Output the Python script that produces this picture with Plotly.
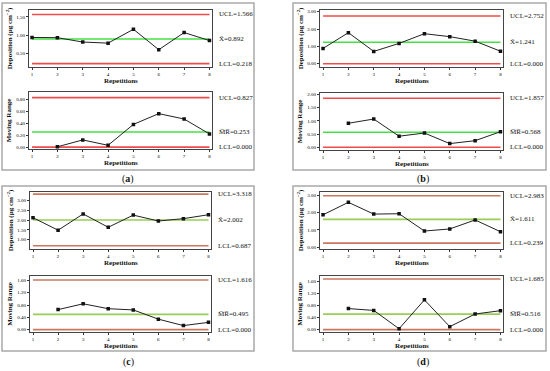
import plotly.graph_objects as go

reps = [1, 2, 3, 4, 5, 6, 7, 8]
rep_ticks = ["1", "2", "3", "4", "5", "6", "7", "8"]

# Individual (deposition) values and moving ranges, per panel
a_dep = [0.935, 0.93, 0.81, 0.78, 1.16, 0.60, 1.07, 0.85]
a_mr = [None, 0.005, 0.12, 0.03, 0.38, 0.56, 0.47, 0.22]
b_dep = [0.88, 1.79, 0.71, 1.17, 1.73, 1.56, 1.30, 0.72]
b_mr = [None, 0.91, 1.07, 0.42, 0.54, 0.14, 0.25, 0.59]
c_dep = [2.12, 1.48, 2.31, 1.63, 2.25, 1.95, 2.07, 2.27]
c_mr = [None, 0.65, 0.84, 0.68, 0.64, 0.34, 0.13, 0.235]
d_dep = [1.88, 2.60, 1.92, 1.94, 0.94, 1.06, 1.58, 0.90]
d_mr = [None, 0.70, 0.64, 0.03, 0.99, 0.10, 0.52, 0.63]

# Control limits (UCL, centre, LCL)
a_dep_lim = [1.566, 0.892, 0.218]
a_mr_lim = [0.827, 0.253, 0.000]
b_dep_lim = [2.752, 1.241, 0.000]
b_mr_lim = [1.857, 0.568, 0.000]
c_dep_lim = [3.318, 2.002, 0.687]
c_mr_lim = [1.616, 0.495, 0.000]
d_dep_lim = [2.983, 1.611, 0.239]
d_mr_lim = [1.685, 0.516, 0.000]

# Tick values
a_dep_ticks = [0.5, 1.0, 1.5]
a_mr_ticks = [0.0, 0.2, 0.4, 0.6, 0.8]
b_dep_ticks = [0.0, 1.0, 2.0, 3.0]
b_mr_ticks = [0.0, 0.5, 1.0, 1.5, 2.0]
c_dep_ticks = [1.0, 1.5, 2.0, 2.5, 3.0]
c_mr_ticks = [0.0, 0.4, 0.8, 1.2, 1.6]
d_dep_ticks = [0.0, 1.0, 2.0, 3.0]
d_mr_ticks = [0.0, 0.4, 0.8, 1.2, 1.6]

panel_labels = ["a", "b", "c", "d"]

W, H = 550, 371
FONT = "Liberation Serif"


def px(x):
    return x / W


def py(y):
    return 1 - y / H


charts = [
    # data, limits, ticks, yrange, x-pixels, y-pixels, kind, colours
    (a_dep, a_dep_lim, a_dep_ticks, [0.135, 1.69], (29, 212), (9, 66), "dep", "ab"),
    (a_mr, a_mr_lim, a_mr_ticks, [-0.035, 0.93], (29, 212), (91, 149), "mr", "ab"),
    (b_dep, b_dep_lim, b_dep_ticks, [-0.17, 3.10], (320, 503), (9, 66), "dep", "ab"),
    (b_mr, b_mr_lim, b_mr_ticks, [-0.11, 2.075], (320, 503), (92, 150), "mr", "ab"),
    (c_dep, c_dep_lim, c_dep_ticks, [0.54, 3.43], (30, 211), (192, 249), "dep", "cd"),
    (c_mr, c_mr_lim, c_mr_ticks, [-0.085, 1.76], (30, 211), (276, 333), "mr", "cd"),
    (d_dep, d_dep_lim, d_dep_ticks, [-0.08, 3.20], (320, 503), (192, 249), "dep", "cd"),
    (d_mr, d_mr_lim, d_mr_ticks, [-0.085, 1.80], (320, 503), (276, 333), "mr", "cd"),
]

fig = go.Figure()
layout = dict(
    width=W, height=H,
    margin=dict(l=0, r=0, t=0, b=0),
    paper_bgcolor="white", plot_bgcolor="white",
    showlegend=False,
    font=dict(family=FONT, color="black"),
)
annotations = []
shapes = []

for i, (vals, lim, ticks, yr, xp, yp, kind, col) in enumerate(charts):
    n = i + 1
    xa = "x" if n == 1 else f"x{n}"
    ya = "y" if n == 1 else f"y{n}"
    red = "#f04a4a" if col == "ab" else "#c9785e"
    green = "#45e045" if col == "ab" else "#9acd55"
    ucl, cl, lcl = lim
    for val, c in [(ucl, red), (lcl, red), (cl, green)]:
        fig.add_trace(go.Scatter(x=[reps[0], reps[-1]], y=[val, val], mode="lines",
                                 line=dict(color=c, width=1.6), xaxis=xa, yaxis=ya,
                                 hoverinfo="skip"))
    fig.add_trace(go.Scatter(x=reps, y=vals, mode="lines+markers",
                             line=dict(color="#222222", width=1),
                             marker=dict(symbol="square", size=3.5, color="#111111"),
                             xaxis=xa, yaxis=ya, connectgaps=False))
    layout["xaxis" if n == 1 else f"xaxis{n}"] = dict(
        domain=[px(xp[0]), px(xp[1])], anchor=ya, range=[0.88, 8.1],
        tickvals=reps, ticktext=rep_ticks, ticks="outside", ticklen=2, tickwidth=0.8,
        tickcolor="#333", tickfont=dict(size=5, family=FONT), showgrid=False, zeroline=False,
        showline=True, mirror=True, linecolor="#444", linewidth=1,
    )
    layout["yaxis" if n == 1 else f"yaxis{n}"] = dict(
        domain=[py(yp[1]), py(yp[0])], anchor=xa, range=yr,
        tickvals=ticks, tickformat=".2f", ticks="outside", ticklen=2, tickwidth=0.8,
        tickcolor="#333", tickfont=dict(size=5, family=FONT), showgrid=False, zeroline=False,
        showline=True, mirror=True, linecolor="#444", linewidth=1,
    )
    # right-side labels
    ax_x = px(xp[1] + 5)
    if kind == "dep":
        ctext = f"X\u0304={cl:.3f}"
    else:
        ctext = f"M\u0305R\u0305={cl:.3f}"
    for val, t in [(ucl, f"UCL={ucl:.3f}"), (cl, ctext), (lcl, f"LCL={lcl:.3f}")]:
        annotations.append(dict(x=ax_x, y=val, xref="paper", yref=ya, text=t,
                                showarrow=False, xanchor="left", yanchor="middle",
                                font=dict(size=7, family=FONT, color="#111")))
    # x title
    annotations.append(dict(x=px((xp[0] + xp[1]) / 2), y=py(yp[1] + 14), xref="paper", yref="paper",
                            text="<b>Repetitions</b>", showarrow=False,
                            xanchor="center", yanchor="middle",
                            font=dict(size=7, family=FONT, color="#111")))
    # y title
    ytitle = "<b>Deposition (μg cm<sup>−2</sup>)</b>" if kind == "dep" else "<b>Moving Range</b>"
    annotations.append(dict(x=px(xp[0] - 20), y=py((yp[0] + yp[1]) / 2), xref="paper", yref="paper",
                            text=ytitle, showarrow=False, textangle=-90,
                            xanchor="center", yanchor="middle",
                            font=dict(size=7, family=FONT, color="#111")))

# panel boxes and labels
boxes = [(2, 2, 254, 170), (293, 2, 546, 170), (2, 186, 254, 352), (293, 186, 546, 352)]
label_pos = [(128, 179), (423, 179), (128, 363), (423, 363)]
for (x0, y0, x1, y1), lab, (lx, ly) in zip(boxes, panel_labels, label_pos):
    shapes.append(dict(type="rect", xref="paper", yref="paper",
                       x0=px(x0), x1=px(x1), y0=py(y1), y1=py(y0),
                       line=dict(color="#a9a9a9", width=1.5), fillcolor="rgba(0,0,0,0)"))
    annotations.append(dict(x=px(lx), y=py(ly), xref="paper", yref="paper",
                            text=f"(<b>{lab}</b>)", showarrow=False,
                            xanchor="center", yanchor="middle",
                            font=dict(size=10, family=FONT, color="#111")))

layout["annotations"] = annotations
layout["shapes"] = shapes
fig.update_layout(**layout)
fig.write_html("out.html", config={"displayModeBar": False},
               post_script="document.body.style.margin='0px';document.body.style.overflow='hidden';")
